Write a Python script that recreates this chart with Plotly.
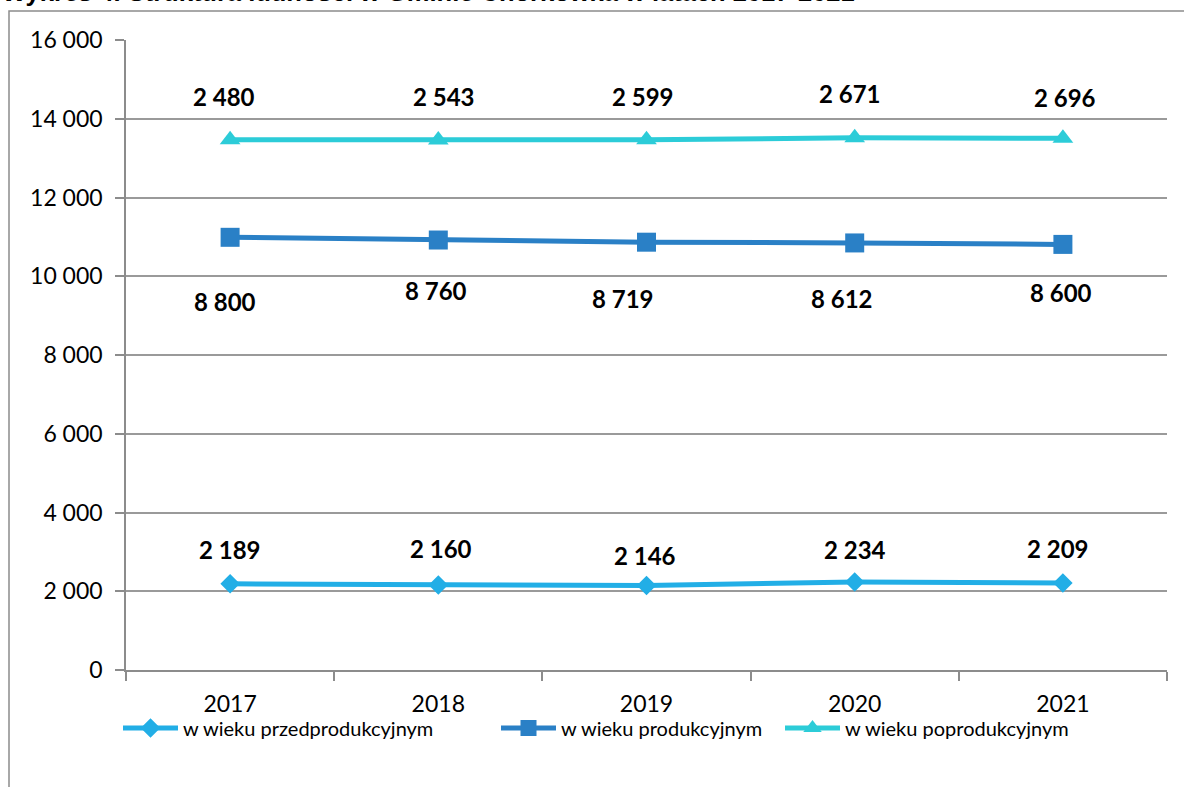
import plotly.graph_objects as go
import numpy as np

years = ["2017", "2018", "2019", "2020", "2021"]
przed = [2189, 2160, 2146, 2234, 2209]
prod = [8800, 8760, 8719, 8612, 8600]
poprod = [2480, 2543, 2599, 2671, 2696]
names = ["w wieku przedprodukcyjnym", "w wieku produkcyjnym", "w wieku poprodukcyjnym"]
colors = ["#22AEE6", "#2A80C6", "#2CCCD8"]
symbols = ["diamond", "square", "triangle-up"]
msizes = [15, 19, 18]
series = [przed, prod, poprod]
title_text = "Wykres 4. Struktura ludności w Gminie Chorkówka w latach 2017-2021"

# label pixel offsets (Excel-style manual placement)
yshifts = [[34, 36, 30, 33, 35], [-64, -50, -56, -56, -48], [43, 43, 43, 44, 41]]
xshifts = [[0, 3, -2, 0, -5], [-5, -2, -24, -13, -2], [-6, 6, -4, -5, 2]]

W, H = 1184, 787
L, R, T, B = 126, 17, 40, 117
pw, ph = W - L - R, H - T - B

def px_x(p):
    return (p - L) / pw

def px_y(p):
    return (H - B - p) / ph

legend_ids = ["legend", "legend2", "legend3"]
legend_x = [118, 496, 780]

fig = go.Figure()
for i, s in enumerate(series):
    fig.add_trace(go.Scatter(
        x=years, y=s, name=names[i], stackgroup="one", fill="none",
        mode="lines+markers",
        line=dict(color=colors[i], width=5),
        marker=dict(symbol=symbols[i], size=msizes[i], color=colors[i]),
        legend=legend_ids[i],
    ))

cum = np.cumsum(np.array(series), axis=0)

def fmt(v):
    return f"{v:,}".replace(",", " ")

for i, s in enumerate(series):
    for j, v in enumerate(s):
        fig.add_annotation(x=j, y=cum[i][j], text=fmt(v), showarrow=False,
                           xref="x", yref="y",
                           yshift=yshifts[i][j], xshift=xshifts[i][j],
                           font=dict(family="Lato", size=24, color="#000000", weight="bold"))

fig.add_annotation(text="<b>" + title_text + "</b>", xref="paper", yref="paper",
                   x=px_x(0), y=px_y(-8), xanchor="left", yanchor="middle",
                   showarrow=False, font=dict(family="Liberation Sans", size=25.5, color="#000000"))

legend_common = dict(orientation="h", xanchor="left", yanchor="middle", y=px_y(728),
                     font=dict(family="Lato", size=20, color="#000000"), itemwidth=55,
                     bgcolor="rgba(0,0,0,0)")
layout_legends = {}
for k, lid in enumerate(legend_ids):
    layout_legends[lid] = dict(legend_common, x=px_x(legend_x[k]))

fig.update_layout(
    width=W, height=H,
    margin=dict(l=L, r=R, t=T, b=B),
    paper_bgcolor="white", plot_bgcolor="white",
    separators=", ",
    showlegend=True,
    xaxis=dict(type="category", tickson="boundaries", ticks="outside", ticklen=9,
               tickcolor="#8C8C8C", tickwidth=1.5,
               showline=True, linecolor="#8C8C8C", linewidth=1.5, showgrid=False,
               tickfont=dict(family="Lato", size=23, color="#000000"), range=[-0.5, 4.5],
               ticklabelstandoff=13),
    yaxis=dict(range=[0, 16000], dtick=2000, tickformat=",d", ticks="outside", ticklen=9,
               tickcolor="#8C8C8C", tickwidth=1.5,
               showline=True, linecolor="#8C8C8C", linewidth=1.5,
               showgrid=True, gridcolor="#9A9A9A", gridwidth=1.5, zeroline=False,
               tickfont=dict(family="Lato", size=23, color="#000000"), ticklabelstandoff=8),
    **layout_legends,
)

fig.add_shape(type="rect", xref="paper", yref="paper",
              x0=px_x(9), x1=px_x(1300), y0=px_y(11), y1=px_y(900),
              line=dict(color="#8C8C8C", width=1.5), fillcolor="rgba(0,0,0,0)", layer="below")

fig.write_html("out.html", config={"displayModeBar": False},
               post_script="document.body.style.margin='0';")
